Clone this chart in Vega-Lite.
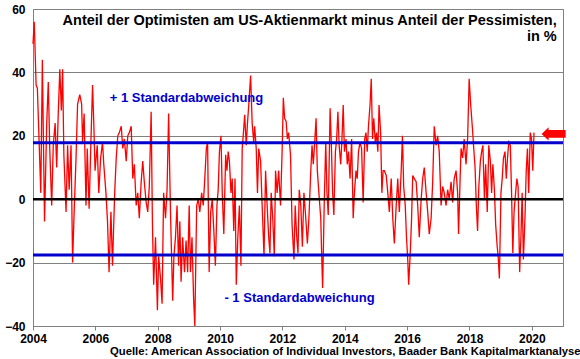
{
  "$schema": "https://vega.github.io/schema/vega-lite/v6.json",
  "width": 530,
  "height": 317,
  "autosize": {"type": "none"},
  "padding": {"left": 33, "top": 9, "right": 17, "bottom": 33},
  "background": "white",
  "config": {
    "view": {"stroke": "#808080", "strokeWidth": 1},
    "font": "Liberation Sans",
    "axis": {"labelFont": "Liberation Sans", "labelFontWeight": "bold", "labelFontSize": 12, "labelColor": "black", "domainColor": "#808080", "tickColor": "#808080"}
  },
  "title": {"text": "Quelle: American Association of Individual Investors, Baader Bank Kapitalmarktanalyse", "orient": "bottom", "anchor": "end", "fontSize": 11.3, "fontWeight": "bold", "color": "black", "font": "Liberation Sans", "offset": 2, "dx": 15},
  "datasets": {
    "series": [
      {"t":2004.00,"v":49},{"t":2004.04,"v":56},{"t":2004.10,"v":36},{"t":2004.14,"v":35},{"t":2004.20,"v":17},{"t":2004.25,"v":2},{"t":2004.30,"v":44},{"t":2004.37,"v":-7},{"t":2004.44,"v":24},{"t":2004.49,"v":37},{"t":2004.54,"v":15},{"t":2004.60,"v":-2},{"t":2004.65,"v":17},{"t":2004.71,"v":24},{"t":2004.76,"v":10},{"t":2004.81,"v":27},{"t":2004.86,"v":41},{"t":2004.91,"v":28},{"t":2004.95,"v":41},{"t":2004.99,"v":14},
      {"t":2005.06,"v":-4},{"t":2005.11,"v":17},{"t":2005.16,"v":3},{"t":2005.22,"v":17},{"t":2005.27,"v":-20},{"t":2005.31,"v":-7},{"t":2005.38,"v":13},{"t":2005.43,"v":30},{"t":2005.50,"v":33},{"t":2005.56,"v":30},{"t":2005.59,"v":18},{"t":2005.64,"v":27},{"t":2005.70,"v":-2},{"t":2005.74,"v":16},{"t":2005.80,"v":-3},{"t":2005.86,"v":19},{"t":2005.91,"v":36},{"t":2005.95,"v":24},{"t":2005.99,"v":9},
      {"t":2006.06,"v":17},{"t":2006.11,"v":2},{"t":2006.17,"v":13},{"t":2006.23,"v":18},{"t":2006.27,"v":11},{"t":2006.34,"v":2},{"t":2006.39,"v":-7},{"t":2006.44,"v":-23},{"t":2006.50,"v":-4},{"t":2006.55,"v":-21},{"t":2006.62,"v":2},{"t":2006.67,"v":13},{"t":2006.72,"v":20},{"t":2006.77,"v":21},{"t":2006.83,"v":23},{"t":2006.88,"v":16},{"t":2006.93,"v":19},{"t":2006.99,"v":12},
      {"t":2007.04,"v":20},{"t":2007.09,"v":21},{"t":2007.15,"v":23},{"t":2007.20,"v":6.5},{"t":2007.25,"v":11},{"t":2007.31,"v":-2},{"t":2007.36,"v":2},{"t":2007.41,"v":-6},{"t":2007.47,"v":5.5},{"t":2007.52,"v":12},{"t":2007.57,"v":5.5},{"t":2007.63,"v":-1},{"t":2007.68,"v":-4},{"t":2007.73,"v":4},{"t":2007.79,"v":27.6},{"t":2007.83,"v":-7},{"t":2007.87,"v":-27},{"t":2007.93,"v":-12},{"t":2007.99,"v":-35},
      {"t":2008.03,"v":-18},{"t":2008.09,"v":-25},{"t":2008.14,"v":-33},{"t":2008.19,"v":2},{"t":2008.25,"v":-6},{"t":2008.30,"v":3},{"t":2008.35,"v":27},{"t":2008.41,"v":-4},{"t":2008.48,"v":-32},{"t":2008.52,"v":-18},{"t":2008.57,"v":-12},{"t":2008.62,"v":-2},{"t":2008.67,"v":-21},{"t":2008.71,"v":-7},{"t":2008.75,"v":-26},{"t":2008.80,"v":-12},{"t":2008.86,"v":-23},{"t":2008.91,"v":-13},{"t":2008.96,"v":-23},{"t":2009.01,"v":-2},{"t":2009.05,"v":-23},{"t":2009.10,"v":-12},{"t":2009.15,"v":-31},{"t":2009.19,"v":-40},
      {"t":2009.25,"v":-2},{"t":2009.30,"v":0},{"t":2009.35,"v":-4},{"t":2009.41,"v":2},{"t":2009.46,"v":-2},{"t":2009.51,"v":6.5},{"t":2009.56,"v":16},{"t":2009.60,"v":18},{"t":2009.65,"v":-23},{"t":2009.70,"v":-4},{"t":2009.75,"v":0},{"t":2009.80,"v":-10},{"t":2009.85,"v":-21},{"t":2009.90,"v":-2},{"t":2009.94,"v":3},{"t":2009.98,"v":15},
      {"t":2010.03,"v":20},{"t":2010.07,"v":2},{"t":2010.12,"v":-11},{"t":2010.18,"v":14},{"t":2010.22,"v":9},{"t":2010.26,"v":15},{"t":2010.30,"v":12},{"t":2010.35,"v":2},{"t":2010.39,"v":6.5},{"t":2010.44,"v":-10},{"t":2010.48,"v":6.5},{"t":2010.52,"v":-27},{"t":2010.57,"v":-12},{"t":2010.62,"v":-2},{"t":2010.67,"v":-21},{"t":2010.71,"v":16},{"t":2010.75,"v":21},{"t":2010.79,"v":26.6},{"t":2010.84,"v":17},{"t":2010.88,"v":24},{"t":2010.92,"v":29.7},{"t":2010.98,"v":39},
      {"t":2011.03,"v":24},{"t":2011.08,"v":18},{"t":2011.11,"v":23},{"t":2011.16,"v":16},{"t":2011.20,"v":2},{"t":2011.24,"v":16},{"t":2011.30,"v":12},{"t":2011.35,"v":-2},{"t":2011.41,"v":-18},{"t":2011.46,"v":9},{"t":2011.51,"v":-2},{"t":2011.56,"v":-12},{"t":2011.60,"v":-17},{"t":2011.64,"v":2},{"t":2011.69,"v":-6},{"t":2011.74,"v":-18},{"t":2011.78,"v":9},{"t":2011.83,"v":2},{"t":2011.88,"v":9},{"t":2011.94,"v":-2},{"t":2011.99,"v":15},
      {"t":2012.03,"v":32},{"t":2012.07,"v":25.5},{"t":2012.12,"v":24.5},{"t":2012.16,"v":19},{"t":2012.20,"v":21},{"t":2012.26,"v":14},{"t":2012.31,"v":-8},{"t":2012.37,"v":-19},{"t":2012.41,"v":-2},{"t":2012.46,"v":-12},{"t":2012.50,"v":-17},{"t":2012.54,"v":3},{"t":2012.59,"v":-2},{"t":2012.64,"v":-15},{"t":2012.69,"v":2},{"t":2012.75,"v":-6},{"t":2012.80,"v":-14},{"t":2012.85,"v":-6},{"t":2012.91,"v":9},{"t":2012.95,"v":17},{"t":2012.99,"v":11},
      {"t":2013.03,"v":17},{"t":2013.08,"v":25.5},{"t":2013.12,"v":9},{"t":2013.17,"v":2},{"t":2013.23,"v":-6},{"t":2013.26,"v":-18},{"t":2013.29,"v":-28},{"t":2013.34,"v":-2},{"t":2013.39,"v":18},{"t":2013.43,"v":2},{"t":2013.47,"v":-5},{"t":2013.53,"v":28.7},{"t":2013.57,"v":17},{"t":2013.61,"v":2},{"t":2013.65,"v":-5},{"t":2013.70,"v":15},{"t":2013.74,"v":19},{"t":2013.78,"v":27.6},{"t":2013.82,"v":17},{"t":2013.87,"v":11},{"t":2013.91,"v":19},{"t":2013.95,"v":29.7},{"t":2013.99,"v":15},
      {"t":2014.04,"v":19},{"t":2014.08,"v":11},{"t":2014.12,"v":15},{"t":2014.17,"v":6.5},{"t":2014.22,"v":19},{"t":2014.27,"v":-6},{"t":2014.31,"v":2},{"t":2014.36,"v":9},{"t":2014.40,"v":6.5},{"t":2014.44,"v":15},{"t":2014.49,"v":18},{"t":2014.54,"v":16},{"t":2014.59,"v":-1},{"t":2014.64,"v":19},{"t":2014.68,"v":21},{"t":2014.72,"v":15},{"t":2014.76,"v":23},{"t":2014.81,"v":29.7},{"t":2014.85,"v":38},{"t":2014.89,"v":19},{"t":2014.93,"v":25.5},{"t":2014.98,"v":18},
      {"t":2015.02,"v":21},{"t":2015.06,"v":15},{"t":2015.10,"v":29.7},{"t":2015.15,"v":21},{"t":2015.19,"v":2},{"t":2015.23,"v":9},{"t":2015.27,"v":9},{"t":2015.33,"v":7.5},{"t":2015.38,"v":2},{"t":2015.43,"v":-4},{"t":2015.49,"v":6.5},{"t":2015.54,"v":-6},{"t":2015.59,"v":-14},{"t":2015.65,"v":-2},{"t":2015.70,"v":6.5},{"t":2015.75,"v":-4},{"t":2015.81,"v":9},{"t":2015.85,"v":20},{"t":2015.89,"v":4},{"t":2015.94,"v":-2},{"t":2015.98,"v":-12},
      {"t":2016.02,"v":-19},{"t":2016.05,"v":-27},{"t":2016.10,"v":-17},{"t":2016.14,"v":-7},{"t":2016.18,"v":7.5},{"t":2016.23,"v":6.5},{"t":2016.29,"v":5.5},{"t":2016.34,"v":-2},{"t":2016.39,"v":-12},{"t":2016.45,"v":0},{"t":2016.50,"v":6.5},{"t":2016.55,"v":10},{"t":2016.61,"v":2},{"t":2016.66,"v":-4},{"t":2016.71,"v":-11},{"t":2016.77,"v":-6},{"t":2016.82,"v":5.5},{"t":2016.87,"v":23},{"t":2016.93,"v":17},{"t":2016.98,"v":20},
      {"t":2017.03,"v":15},{"t":2017.09,"v":-2},{"t":2017.14,"v":4},{"t":2017.19,"v":2},{"t":2017.25,"v":-2},{"t":2017.30,"v":3},{"t":2017.35,"v":0},{"t":2017.41,"v":5.5},{"t":2017.46,"v":-1},{"t":2017.51,"v":6.5},{"t":2017.57,"v":9},{"t":2017.62,"v":2},{"t":2017.65,"v":-11},{"t":2017.70,"v":6.5},{"t":2017.73,"v":16},{"t":2017.78,"v":13},{"t":2017.83,"v":19},{"t":2017.89,"v":11},{"t":2017.94,"v":19},{"t":2017.99,"v":38},
      {"t":2018.04,"v":29.7},{"t":2018.09,"v":23},{"t":2018.13,"v":17},{"t":2018.18,"v":10},{"t":2018.22,"v":-2},{"t":2018.26,"v":-10},{"t":2018.30,"v":4},{"t":2018.35,"v":12},{"t":2018.39,"v":15},{"t":2018.43,"v":17},{"t":2018.48,"v":0},{"t":2018.52,"v":11},{"t":2018.57,"v":-4},{"t":2018.62,"v":17},{"t":2018.67,"v":12},{"t":2018.71,"v":2},{"t":2018.75,"v":11},{"t":2018.80,"v":3},{"t":2018.84,"v":-8},{"t":2018.89,"v":-15},{"t":2018.92,"v":-18},{"t":2018.96,"v":-25},
      {"t":2019.01,"v":2},{"t":2019.05,"v":6.5},{"t":2019.09,"v":13},{"t":2019.14,"v":15},{"t":2019.18,"v":6.5},{"t":2019.22,"v":13},{"t":2019.26,"v":18},{"t":2019.31,"v":17},{"t":2019.35,"v":2},{"t":2019.39,"v":-17},{"t":2019.43,"v":-4},{"t":2019.48,"v":2},{"t":2019.52,"v":6.5},{"t":2019.56,"v":4},{"t":2019.61,"v":-23},{"t":2019.65,"v":-12},{"t":2019.69,"v":2},{"t":2019.73,"v":-19},{"t":2019.78,"v":-6},{"t":2019.82,"v":9},{"t":2019.86,"v":16},{"t":2019.90,"v":2},{"t":2019.95,"v":21},{"t":2019.99,"v":19},{"t":2020.03,"v":9},{"t":2020.07,"v":21}
    ],
    "refs": [{"v": 17.8}, {"v": -17.6}],
    "notes": [
      {"t": 2020.8, "v": 55.1, "label": "Anteil der Optimisten am US-Aktienmarkt minus Anteil der Pessimisten,", "kind": "title"},
      {"t": 2020.8, "v": 49.8, "label": "in %", "kind": "title"},
      {"t": 2006.46, "v": 30.8, "label": "+ 1 Standardabweichung", "kind": "sd"},
      {"t": 2010.14, "v": -32.3, "label": "- 1 Standardabweichung", "kind": "sd"},
      {"t": 2020.7, "v": 20.6, "label": "", "kind": "arrow"}
    ]
  },
  "encoding": {
    "x": {"field": "t", "type": "quantitative", "scale": {"domain": [2004, 2021], "nice": false, "zero": false},
      "axis": {"values": [2004, 2006, 2008, 2010, 2012, 2014, 2016, 2018, 2020], "format": "d", "title": null, "grid": false, "tickSize": 4, "labelPadding": 3, "labelFlush": false}},
    "y": {"field": "v", "type": "quantitative", "scale": {"domain": [-40, 60], "nice": false, "zero": false},
      "axis": {"values": [-40, -20, 0, 20, 40, 60], "title": null, "grid": true, "gridColor": "#808080", "gridWidth": 1, "ticks": false, "labelPadding": 8}}
  },
  "layer": [
    {"data": {"name": "series"}, "mark": {"type": "line", "color": "#ff0000", "strokeWidth": 1.3}},
    {"data": {"name": "refs"}, "mark": {"type": "rule", "color": "#0000cc", "strokeWidth": 3}, "encoding": {"x": null, "y": {"field": "v", "type": "quantitative"}}},
    {"data": {"values": [{"v": 0}]}, "mark": {"type": "rule", "color": "black", "strokeWidth": 2.5}, "encoding": {"x": null, "y": {"field": "v", "type": "quantitative"}}},
    {"data": {"name": "notes"}, "transform": [{"filter": "datum.kind == 'title'"}], "mark": {"type": "text", "align": "right", "baseline": "alphabetic", "fontSize": 14.5, "fontWeight": "bold", "color": "black", "font": "Liberation Sans"}, "encoding": {"text": {"field": "label"}}},
    {"data": {"name": "notes"}, "transform": [{"filter": "datum.kind == 'sd'"}], "mark": {"type": "text", "align": "left", "baseline": "alphabetic", "fontSize": 13, "fontWeight": "bold", "color": "#0000cc", "font": "Liberation Sans"}, "encoding": {"text": {"field": "label"}}},
    {"data": {"name": "notes"}, "transform": [{"filter": "datum.kind == 'arrow'"}], "mark": {"type": "point", "filled": true, "color": "#ff0000", "opacity": 1, "size": 576, "shape": "M -1 0 L -0.42 -0.55 L -0.42 -0.33 L 1 -0.33 L 1 0.33 L -0.42 0.33 L -0.42 0.55 Z"}}
  ]
}
